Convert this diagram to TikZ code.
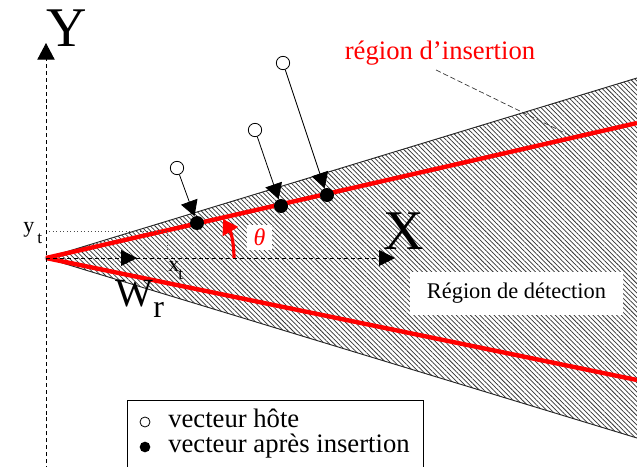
\documentclass[tikz,border=0pt]{standalone}
\usepackage{fontspec}
\setmainfont{Liberation Serif}
\usetikzlibrary{arrows.meta,patterns.meta}
\begin{document}
\begin{tikzpicture}[x=0.75pt,y=-0.75pt,
  tri/.style={-{Triangle[width=13pt,length=11.5pt]}},
  host/.style={circle,draw=black,fill=white,line width=0.6pt,minimum size=10pt,inner sep=0pt},
  ins/.style={circle,fill=black,minimum size=10.5pt,inner sep=0pt},
  lab/.style={inner sep=0pt,anchor=base west},
  redline/.style={red,line width=3.3pt},
  axis/.style={line width=0.7pt,dash pattern=on 3pt off 2.2pt},
  guide/.style={line width=0.6pt,dotted,black!70},
]
\useasboundingbox (0,0) rectangle (637,467);
\begin{scope}
\clip (0,0) rectangle (637,467);
\fill[white] (0,0) rectangle (637,467);
% coordinates
\coordinate (O) at (46,258);
\coordinate (UR) at (637,78);
\coordinate (LR) at (637,438);
\coordinate (RU) at (637,123);
\coordinate (RL) at (637,380);
% hatched region
\path[pattern={Lines[angle=-45,distance=2.5pt,line width=0.55pt]},pattern color=black!80] (O) -- (UR) -- (LR) -- cycle;
\draw[line width=0.7pt,black!85] (UR) -- (O) -- (LR);
% red lines
\draw[redline] (O) -- (RU);
\draw[redline] (O) -- (RL);
% guides for xt, yt
\coordinate (YtL) at (46,231);
\coordinate (P) at (167,231);
\coordinate (XtB) at (167,258);
\draw[guide] (YtL) -- (P) -- (XtB);
% axes
\coordinate (Ybot) at (46,470);
\coordinate (Ytop) at (46,43);
\coordinate (Xtip) at (395,258);
\coordinate (Wtip) at (137,258);
\draw[axis,-{Triangle[width=13pt,length=12.5pt]}] (Ybot) -- (Ytop);
\draw[axis,-{Triangle[width=12pt,length=12pt]}] (O) -- (Xtip);
\draw[axis,-{Triangle[width=12pt,length=12pt]}] (O) -- (Wtip);
% theta
\coordinate (Ta) at (234,258);
\coordinate (Tb) at (223,219);
\draw[red,line width=2.4pt,-{Triangle[width=13pt,length=11pt]}] (Ta) to[bend right=15] (Tb);
\node[fill=white,inner sep=0pt,minimum width=19pt,minimum height=19pt,text=red,
      font=\fontsize{18}{18}\selectfont\itshape] (th) at (259.5,237.5) {θ};
% vectors
\node[host] (h1) at (177,168) {};
\node[host] (h2) at (255,130) {};
\node[host] (h3) at (283,63) {};
\node[ins] (d1) at (197,223) {};
\node[ins] (d2) at (281,206) {};
\node[ins] (d3) at (327,195) {};
\draw[tri,line width=0.6pt] (h1) -- (d1);
\draw[tri,line width=0.6pt] (h2) -- (d2);
\draw[tri,line width=0.6pt] (h3) -- (d3);
% labels
\node[inner sep=0pt,anchor=base,font=\fontsize{42}{42}\selectfont] (Ylab) at (67,47) {Y};
\node[inner sep=0pt,anchor=base,font=\fontsize{42}{42}\selectfont] (Xlab) at (404,250) {X};
\node[lab,font=\fontsize{30}{30}\selectfont] (Wlab) at (115,307) {W};
\node[lab,font=\fontsize{24}{24}\selectfont] (rlab) at (153,318) {r};
\node[lab,font=\fontsize{16.5}{16.5}\selectfont] (ylab) at (23,233) {y};
\node[lab,font=\fontsize{13}{13}\selectfont] (ytlab) at (37,244) {t};
\node[lab,font=\fontsize{16.5}{16.5}\selectfont] (xlab) at (168,272) {x};
\node[lab,font=\fontsize{13}{13}\selectfont] (xtlab) at (178,280) {t};
% region labels
\node[inner sep=0pt,anchor=base,text=red,font=\fontsize{20}{20}\selectfont] (ins) at (440,60) {région d’insertion};
\coordinate (L1) at (436,70);
\coordinate (L2) at (573,137);
\draw[line width=0.5pt,dash pattern=on 4pt off 2pt,black!80] (L1) -- (L2);
\node[fill=white,inner sep=0pt,minimum width=160pt,minimum height=32pt,
      font=\fontsize{16.8}{16.8}\selectfont] (det) at (516.5,293.5) {Région de détection};
% legend
\draw[line width=0.7pt,fill=white] (127,400) rectangle (423,480);
\node[host,minimum size=7.5pt] (lh) at (145,422) {};
\node[ins,minimum size=8pt] (ld) at (145,447) {};
\node[lab,font=\fontsize{20}{20}\selectfont] (t1) at (168,427) {vecteur hôte};
\node[lab,font=\fontsize{20}{20}\selectfont] (t2) at (168,452) {vecteur après insertion};
\end{scope}
\end{tikzpicture}
\end{document}
